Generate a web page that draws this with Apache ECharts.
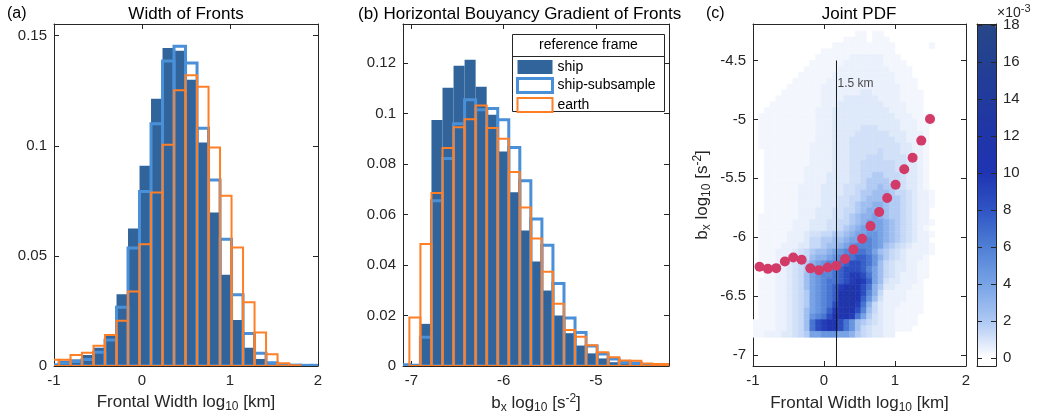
<!DOCTYPE html>
<html>
<head>
<meta charset="utf-8">
<script src="https://cdn.jsdelivr.net/npm/echarts@6.0.0/dist/echarts.min.js"></script>
<style>
html, body { margin: 0; padding: 0; background: #ffffff; }
#chart { width: 1040px; height: 419px; }
</style>
</head>
<body>
<div id="chart"></div>
<script>
// ================= DATA =================
// ---- panel (a): Width of Fronts (histogram, probability) ----
const widthBinEdges = [-1.0737, -0.9430, -0.8123, -0.6816, -0.5509, -0.4202, -0.2895, -0.1588, -0.0281, 0.1026,
  0.2333, 0.3640, 0.4947, 0.6254, 0.7561, 0.8868, 1.0175, 1.1482, 1.2789, 1.4096, 1.5403, 1.6710, 1.8017, 1.9324, 2.0631];
const widthShip = [0.0010, 0.0024, 0.0030, 0.0050, 0.0083, 0.0144, 0.0326, 0.0624, 0.0909, 0.1213, 0.1444, 0.1432,
  0.1300, 0.1015, 0.0697, 0.0414, 0.0209, 0.0083, 0.0032, 0.0008, 0.0003, 0.0002, 0.0001, 0.0001];
const widthShipSub = [0.0005, 0.0015, 0.0020, 0.0030, 0.0062, 0.0118, 0.0267, 0.0536, 0.0792, 0.1100, 0.1385, 0.1452,
  0.1376, 0.1080, 0.0845, 0.0576, 0.0323, 0.0148, 0.0058, 0.0015, 0.0006, 0.0004, 0.0003, 0.0003];
const widthEarth = [0.0028, 0.0028, 0.0050, 0.0060, 0.0092, 0.0141, 0.0205, 0.0338, 0.0553, 0.0788, 0.1005, 0.1252,
  0.1320, 0.1268, 0.0992, 0.0773, 0.0538, 0.0290, 0.0152, 0.0053, 0.0012, 0.0003, 0, 0];

// ---- panel (b): Horizontal Buoyancy Gradient of Fronts ----
const bxBinEdges = [-7.1417, -7.0220, -6.9023, -6.7826, -6.6629, -6.5432, -6.4235, -6.3038, -6.1841, -6.0644,
  -5.9447, -5.8250, -5.7053, -5.5856, -5.4659, -5.3462, -5.2265, -5.1068, -4.9871, -4.8674, -4.7477, -4.6280,
  -4.5083, -4.3886, -4.2689, -4.1492];
const bxShip = [0.0005, 0.0003, 0.0167, 0.0975, 0.1102, 0.1190, 0.1213, 0.1106, 0.0995, 0.0850, 0.0688, 0.0537,
  0.0414, 0.0299, 0.0200, 0.0130, 0.0081, 0.0050, 0.0030, 0.0015, 0.0011, 0.0007, 0.0004, 0.0003, 0.0002];
const bxShipSub = [0.0005, 0.0003, 0.0114, 0.0655, 0.0822, 0.0960, 0.1055, 0.1015, 0.1020, 0.0976, 0.0866, 0.0734,
  0.0582, 0.0478, 0.0327, 0.0190, 0.0133, 0.0079, 0.0048, 0.0028, 0.0015, 0.0012, 0.0006, 0.0004, 0.0003];
const bxEarth = [0, 0.0192, 0.0483, 0.0685, 0.0864, 0.0946, 0.0978, 0.1032, 0.0943, 0.0900, 0.0769, 0.0628,
  0.0505, 0.0373, 0.0247, 0.0143, 0.0116, 0.0082, 0.0054, 0.0035, 0.0022, 0.0021, 0.0010, 0.0008, 0.0008];

// ---- panel (c): Joint PDF ----
const jointX = [-0.908, -0.791, -0.673, -0.551, -0.433, -0.315, -0.193, -0.071, 0.052, 0.175, 0.297,
  0.415, 0.537, 0.655, 0.777, 0.890, 1.008, 1.130, 1.248, 1.370, 1.493];
const jointY = [-6.252, -6.269, -6.263, -6.206, -6.172, -6.192, -6.265, -6.280, -6.257, -6.243, -6.186,
  -6.104, -6.014, -5.906, -5.786, -5.667, -5.555, -5.424, -5.325, -5.180, -4.996];
const refWidthX = 0.176;      // log10(1.5 km)
const refLineTop = -4.5;
const refLabel = '1.5 km';
const refLabelY = -4.70;

// joint pdf grid: 34 columns (x from -1.0, step 0.08) x 52 rows (y from -6.85, step 0.05)
// values in units of 1e-3, one character per cell, rows listed top -> bottom,
// columns grouped 10 | 10 | 10 | 4 for readability
const pdfX0 = -1.0, pdfDX = 0.08, pdfY0 = -6.85, pdfDY = 0.05;
const pdfLevels = {'.': 0, '1': 0.3, '2': 0.5, '3': 0.8, '4': 1.1, '5': 1.4, '6': 1.9, '7': 2.5, '8': 3.2, '9': 4.0,
  'a': 4.8, 'b': 5.6, 'c': 6.5, 'd': 7.5, 'e': 8.5, 'f': 9.5, 'g': 10.5, 'h': 12, 'i': 14, 'j': 16, 'k': 18};
const pdfRows = [
  ".......... ........11 .11....... ....",
  ".......... ......1111 .111...... ....",
  ".......... ....111111 11111..... .1..",
  ".......... ..11111111 11111..... ....",
  ".......... .111111222 222111.... ....",
  ".......... 1111112222 2221111... ....",
  ".........1 1111122222 22221111.. ....",
  "........11 1111222222 22222111.. ....",
  ".......111 1112222222 222221111. ....",
  "......1111 1122222222 222222111. ....",
  ".....11111 1122222223 3222221111 ....",
  "....111111 1122223333 3322221111 ....",
  "...1111111 1122233333 3332222111 ....",
  "..11111111 1222333333 3333222111 ....",
  ".111111111 1222333333 3333322211 11..",
  ".111111111 1222333333 3333332221 11..",
  ".111111111 1222333334 4433332221 1...",
  ".111111111 1222333344 4444333222 1...",
  ".111111111 1222333444 4444433222 1...",
  ".111111111 2222333444 4444443322 1...",
  "..11111111 2222333444 4454443322 1...",
  "..11111111 2222333444 5554444322 1...",
  "..11111111 2222333445 5555544332 1...",
  "..11111112 2222333445 5555544332 1...",
  "..11111112 2223333445 5665554332 1...",
  "..11111112 2223333445 6666554332 1...",
  "..11111122 2233334455 6676654332 1...",
  "..11111122 2233334456 6777655432 21..",
  "..11111122 2233344556 7777665432 21..",
  "..11111122 2233344567 7887665432 21..",
  "..11111122 2333445567 8887665432 2...",
  ".111111122 2333445678 8987665432 2...",
  ".111111222 3334455678 9998765432 21..",
  ".111111222 3334456789 a998765432 1...",
  ".111112223 4455667899 aa98765432 21..",
  ".111112223 556677899a ba98765432 2...",
  ".111122233 5567789abb ba97654322 21..",
  ".111222345 67789abccc b976543222 21..",
  ".111223345 7889abccdd ca86543222 1...",
  "..11223456 89abbcdeed ca75433221 1...",
  "..11223456 89abcdeeed b975433221 1...",
  "..11223457 9abbcdeffe c975432221 1...",
  ".111223457 9abccdefgf d974332221 ....",
  ".111223457 9abcdfghge c863322211 ....",
  ".111223456 9abcdghhge b852222111 ....",
  ".111223456 9abcdghhgd a742222111 ....",
  ".111223456 9abceghhfc 8532221111 ....",
  ".111223457 9abdfghgeb 7532211111 ....",
  ".111223457 abcegggfc9 643221111. ....",
  "1111223457 cefggeca76 543221111. ....",
  "1111223457 cefggeca75 43322111.. ....",
  "1122233456 99aaa99865 43322..... ...."
];

// tick values
const ticksWidthX = [-1, 0, 1, 2];
const ticksWidthY = [0, 0.05, 0.1, 0.15];
const ticksBxX = [-7, -6, -5];
const ticksBxY = [0, 0.02, 0.04, 0.06, 0.08, 0.1, 0.12];
const ticksJointX = [-1, 0, 1, 2];
const ticksJointY = [-7, -6.5, -6, -5.5, -5, -4.5];
const ticksColorbar = [0, 2, 4, 6, 8, 10, 12, 14, 16, 18];

// ================= STYLE =================
const FONT = "'Liberation Sans', Arial, Helvetica, sans-serif";
const AX = '#262626';
const C_SHIP = '#31649b', C_SUB = '#4a90d9', C_EARTH = '#ff7f27', C_DOT = '#d23a68';
const cYMin = -7.094, cYMax = -4.19;

// build heat cells from the typed rows
const heatData = [];
pdfRows.forEach((rowRaw, r) => {
  const row = rowRaw.replace(/ /g, '');
  const j = pdfRows.length - 1 - r;
  for (let i = 0; i < row.length; i++) {
    const v = pdfLevels[row[i]] || 0;
    if (v > 0) heatData.push([pdfX0 + (i + 0.5) * pdfDX, pdfY0 + (j + 0.5) * pdfDY, v]);
  }
});

function mkAxis(gridIndex, position, min, max, ticks, showLabels, extra) {
  return Object.assign({
    type: 'value', gridIndex, position, min, max,
    axisLine: { show: true, onZero: false, lineStyle: { color: AX, width: 1 } },
    axisTick: { show: true, inside: true, length: 5, customValues: ticks, lineStyle: { color: AX, width: 1 } },
    axisLabel: { show: showLabels, customValues: ticks, color: AX, fontSize: 15, fontFamily: FONT, margin: 7 },
    splitLine: { show: false },
    axisPointer: { show: false }
  }, extra || {});
}

const richSub = {
  s: { fontSize: 12, fontFamily: FONT, color: AX, padding: [9, 0, 0, 0] },
  p: { fontSize: 12, fontFamily: FONT, color: AX, padding: [0, 0, 9, 0] }
};
const nameStyle = { fontSize: 17, fontFamily: FONT, color: AX, rich: richSub };

function histSeries(name, axisIdx, edges, vals, kind) {
  const data = vals.map((v, i) => [edges[i], edges[i + 1], v]);
  const st = kind === 'fill' ? { fill: C_SHIP } :
    { fill: 'none', stroke: kind === 'sub' ? C_SUB : C_EARTH, lineWidth: kind === 'sub' ? 3 : 2 };
  return {
    type: 'custom', name, xAxisIndex: axisIdx, yAxisIndex: axisIdx, clip: true, silent: true,
    z: kind === 'fill' ? 2 : (kind === 'sub' ? 3 : 4),
    itemStyle: kind === 'fill' ? { color: C_SHIP } : { color: '#fff', borderColor: st.stroke, borderWidth: st.lineWidth },
    encode: { x: [0, 1], y: 2 },
    data,
    renderItem: function (params, api) {
      const h = api.value(2);
      if (!(h > 0)) return null;
      const p0 = api.coord([api.value(0), 0]);
      const p1 = api.coord([api.value(1), h]);
      return { type: 'rect', shape: { x: p0[0], y: p1[1], width: p1[0] - p0[0], height: p0[1] - p1[1] }, style: Object.assign({}, st) };
    }
  };
}

const chart = echarts.init(document.getElementById('chart'), null, { renderer: 'canvas' });

const option = {
  animation: false,
  backgroundColor: '#ffffff',
  textStyle: { fontFamily: FONT },
  grid: [
    { left: 54, top: 24, width: 264, height: 342, outerBoundsMode: 'none' },
    { left: 403, top: 24, width: 266, height: 342, outerBoundsMode: 'none' },
    { left: 753, top: 24, width: 213, height: 342, outerBoundsMode: 'none' },
    { left: 977, top: 24, width: 19, height: 342, outerBoundsMode: 'none' }
  ],
  xAxis: [
    mkAxis(0, 'bottom', -1, 2, ticksWidthX, true, {
      name: 'Frontal Width log{s|10} [km]', nameLocation: 'middle', nameGap: 26, nameTextStyle: nameStyle }),
    mkAxis(0, 'top', -1, 2, ticksWidthX, false),
    mkAxis(1, 'bottom', -7.091, -4.208, ticksBxX, true, {
      name: 'b{s|x} log{s|10} [s{p|-2}]', nameLocation: 'middle', nameGap: 27, nameTextStyle: nameStyle }),
    mkAxis(1, 'top', -7.091, -4.208, ticksBxX, false),
    mkAxis(2, 'bottom', -1, 2, ticksJointX, true, {
      name: 'Frontal Width log{s|10} [km]', nameLocation: 'middle', nameGap: 27, nameTextStyle: nameStyle }),
    mkAxis(2, 'top', -1, 2, ticksJointX, false),
    mkAxis(3, 'bottom', 0, 1, [], false, { axisTick: { show: false } }),
    mkAxis(3, 'top', 0, 1, [], false, { axisTick: { show: false } })
  ],
  yAxis: [
    mkAxis(0, 'left', 0, 0.1553, ticksWidthY, true),
    mkAxis(0, 'right', 0, 0.1553, ticksWidthY, false),
    mkAxis(1, 'left', 0, 0.1355, ticksBxY, true),
    mkAxis(1, 'right', 0, 0.1355, ticksBxY, false),
    mkAxis(2, 'left', cYMin, cYMax, ticksJointY, true, {
      name: 'b{s|x} log{s|10} [s{p|-2}]', nameLocation: 'middle', nameGap: 40, nameRotate: 90, nameTextStyle: nameStyle }),
    mkAxis(2, 'right', cYMin, cYMax, ticksJointY, false),
    mkAxis(3, 'left', -0.43, 18.05, ticksColorbar, false, { z: 10 }),
    mkAxis(3, 'right', -0.43, 18.05, ticksColorbar, true, { z: 10 })
  ],
  visualMap: {
    type: 'continuous', min: 0, max: 18, dimension: 2, seriesIndex: [6],
    calculable: false, hoverLink: false, orient: 'vertical',
    left: 977, top: 25, itemWidth: 19, itemHeight: 333, padding: 0, text: null, z: 4,
    inRange: { color: ['#ffffff', '#adc8f3', '#78a3e6', '#4f7fd5', '#2f55c4', '#1f34b2', '#1f35a8', '#213a9d', '#234092', '#274787'] }
  },
  legend: {
    show: true, orient: 'vertical', left: 516, top: 60, itemWidth: 35, itemHeight: 14, itemGap: 3,
    padding: 0, selectedMode: false, z: 20,
    textStyle: { fontSize: 14, fontFamily: FONT, color: '#000' },
    data: [
      { name: 'ship', icon: 'rect', itemStyle: { color: C_SHIP, borderWidth: 0 } },
      { name: 'ship-subsample', icon: 'rect', itemStyle: { color: '#ffffff', borderColor: C_SUB, borderWidth: 3 } },
      { name: 'earth', icon: 'rect', itemStyle: { color: '#ffffff', borderColor: C_EARTH, borderWidth: 2 } }
    ]
  },
  graphic: [
    { type: 'text', x: 7, y: 14, style: { text: '(a)', fontSize: 16, fontFamily: FONT, fill: '#000', textVerticalAlign: 'middle' } },
    { type: 'text', x: 186, y: 14, style: { text: 'Width of Fronts', fontSize: 17, fontFamily: FONT, fill: '#000', textAlign: 'center', textVerticalAlign: 'middle' } },
    { type: 'text', x: 358, y: 14, style: { text: '(b) Horizontal Bouyancy Gradient of Fronts', fontSize: 17, fontFamily: FONT, fill: '#000', textVerticalAlign: 'middle' } },
    { type: 'text', x: 706, y: 14, style: { text: '(c)', fontSize: 16, fontFamily: FONT, fill: '#000', textVerticalAlign: 'middle' } },
    { type: 'text', x: 859, y: 14, style: { text: 'Joint PDF', fontSize: 17, fontFamily: FONT, fill: '#000', textAlign: 'center', textVerticalAlign: 'middle' } },
    { type: 'rect', z: 15, shape: { x: 512.5, y: 34.5, width: 152, height: 77 }, style: { fill: '#ffffff', stroke: AX, lineWidth: 1 } },
    { type: 'line', z: 16, shape: { x1: 512.5, y1: 56.5, x2: 664.5, y2: 56.5 }, style: { stroke: AX, lineWidth: 1 } },
    { type: 'text', z: 16, x: 588.5, y: 45.5, style: { text: 'reference frame', fontSize: 14, fontFamily: FONT, fill: '#000', textAlign: 'center', textVerticalAlign: 'middle' } },
    { type: 'text', z: 16, x: 997, y: 13, style: { text: '×10{p|-3}', fontSize: 14, fontFamily: FONT, fill: AX, textVerticalAlign: 'middle',
        rich: { p: { fontSize: 11, fontFamily: FONT, fill: AX, padding: [0, 0, 9, 0] } } } }
  ],
  series: [
    histSeries('ship', 0, widthBinEdges, widthShip, 'fill'),
    histSeries('ship-subsample', 0, widthBinEdges, widthShipSub, 'sub'),
    histSeries('earth', 0, widthBinEdges, widthEarth, 'earth'),
    histSeries('ship', 2, bxBinEdges, bxShip, 'fill'),
    histSeries('ship-subsample', 2, bxBinEdges, bxShipSub, 'sub'),
    histSeries('earth', 2, bxBinEdges, bxEarth, 'earth'),
    {
      type: 'custom', name: 'joint pdf', xAxisIndex: 4, yAxisIndex: 4, clip: true, silent: true, z: 1,
      dimensions: ['x', 'y', 'pdf'], encode: { x: 0, y: 1 },
      data: heatData,
      renderItem: function (params, api) {
        const x = api.value(0), y = api.value(1);
        const p0 = api.coord([x - pdfDX / 2, y - pdfDY / 2]);
        const p1 = api.coord([x + pdfDX / 2, y + pdfDY / 2]);
        const c = api.visual('color');
        return { type: 'rect', shape: { x: p0[0], y: p1[1], width: p1[0] - p0[0], height: p0[1] - p1[1] }, style: { fill: c, stroke: c, lineWidth: 0.6 } };
      }
    },
    {
      type: 'line', name: 'ref', xAxisIndex: 4, yAxisIndex: 4, silent: true, z: 5, symbol: 'none',
      data: [[refWidthX, cYMin], [refWidthX, refLineTop]],
      lineStyle: { color: '#1a1a1a', width: 1 }
    },
    {
      type: 'scatter', name: 'refLabel', xAxisIndex: 4, yAxisIndex: 4, silent: true, z: 6, symbolSize: 0,
      data: [[refWidthX, refLabelY]],
      label: { show: true, position: 'right', distance: 1, formatter: refLabel, fontSize: 12, fontFamily: FONT, color: '#1a1a1a' }
    },
    {
      type: 'scatter', name: 'median', xAxisIndex: 4, yAxisIndex: 4, silent: true, z: 6, symbol: 'circle', symbolSize: 10,
      data: jointX.map((x, i) => [x, jointY[i]]),
      itemStyle: { color: C_DOT, opacity: 1 }
    }
  ]
};
chart.setOption(option);
</script>
</body>
</html>
